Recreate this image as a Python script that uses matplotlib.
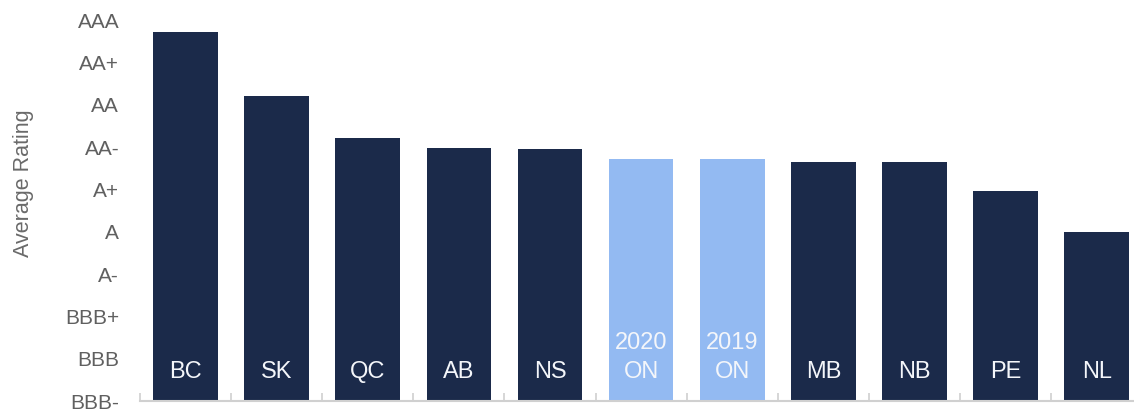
import matplotlib
matplotlib.use('Agg')
import matplotlib.pyplot as plt

# Credit rating scale, lowest to highest
rating_labels = ['BBB-', 'BBB', 'BBB+', 'A-', 'A', 'A+', 'AA-', 'AA', 'AA+', 'AAA']

# Provinces and their average rating (0 = BBB-, 9 = AAA)
provinces = ['BC', 'SK', 'QC', 'AB', 'NS', '2020\nON', '2019\nON', 'MB', 'NB', 'PE', 'NL']
avg_rating = [8.72, 7.2, 6.21, 5.97, 5.95, 5.72, 5.72, 5.64, 5.64, 4.97, 3.99]
highlight = [False, False, False, False, False, True, True, False, False, False, False]

dark = '#1b2a4a'
light = '#93baf2'
plt.rcParams['font.family'] = ['Liberation Sans', 'DejaVu Sans']

fig = plt.figure(figsize=(11.34, 4.11), dpi=100)
ax = fig.add_axes([140 / 1134, 10 / 411, 994 / 1134, 381 / 411])

x = list(range(len(provinces)))
colors = [light if h else dark for h in highlight]
ax.bar(x, avg_rating, width=0.71, color=colors, zorder=2)

# labels inside the bars, near the bottom
for xi, name in zip(x, provinces):
    ax.text(xi, 0.42, name, ha='center', va='bottom', color='#f4f6fa',
            fontsize=17, linespacing=1.4, zorder=3)

ax.set_yticks(range(len(rating_labels)))
ax.set_yticklabels(rating_labels, fontsize=15, color='#606060')
ax.tick_params(axis='y', length=0, pad=15)

ax.set_xticks([])
ax.set_xticks([i - 0.5 for i in range(len(provinces) + 1)], minor=True)
ax.tick_params(axis='x', which='minor', direction='in', length=6, width=1.2, color='#d0d0d0')

# limits after the ticks, otherwise set_xticks widens them
ax.set_xlim(-0.5, 10.41)
ax.set_ylim(0, 9)

ax.set_ylabel('Average Rating', fontsize=15.5, color='#6a6a6a')
ax.yaxis.set_label_coords(-0.107, 0.572)

for side in ['left', 'top', 'right']:
    ax.spines[side].set_visible(False)
ax.spines['bottom'].set_color('#d0d0d0')
ax.spines['bottom'].set_linewidth(1.5)

fig.savefig('out.png', dpi=100)
